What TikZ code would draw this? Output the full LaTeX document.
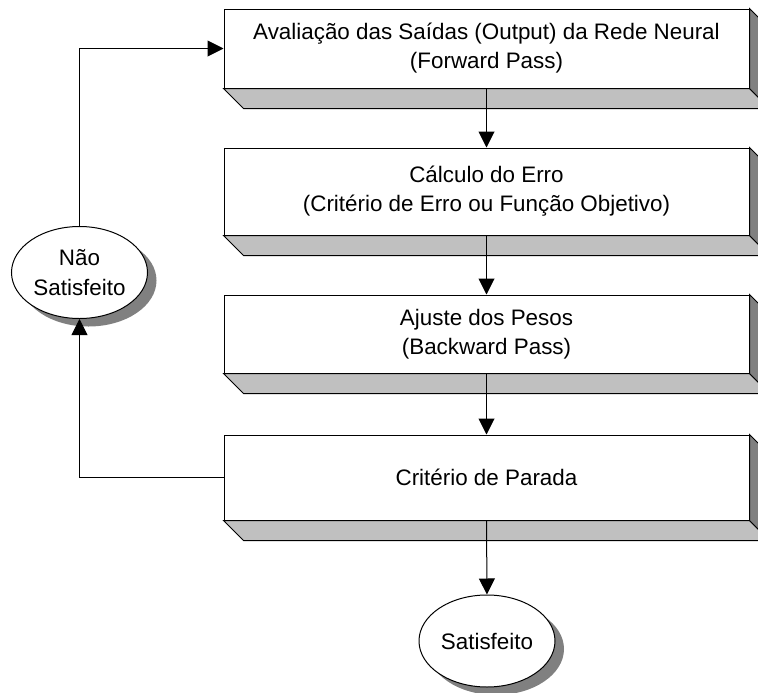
\documentclass[tikz,border=0pt]{standalone}
\usepackage{fontspec}
\setmainfont{Liberation Sans}
\usetikzlibrary{arrows.meta,calc,shapes.geometric}

\definecolor{facegray}{HTML}{C0C0C0}
\definecolor{sidegray}{HTML}{808080}

\tikzset{every picture/.style={line width=0.75pt}}
\tikzset{
  stage/.style={draw, fill=white, minimum width=393.75pt, inner sep=0.75pt, align=center,
    font=\fontsize{16.8}{21.8}\selectfont},
  outcome/.style={ellipse, draw, fill=white, minimum width=102pt, minimum height=69pt,
    inner sep=0pt, align=center, font=\fontsize{16.8}{23}\selectfont},
  flow/.style={-{Triangle[width=12pt,length=12pt]}},
}

\begin{document}
\begin{tikzpicture}[x=0.75pt,y=0.75pt,yscale=-1,xscale=1]
\useasboundingbox (0,0) rectangle (758,693);
\clip (0,0) rectangle (758,693);

%Shadows of the ellipses
\fill[sidegray] (88.5,280.5) ellipse [x radius=68, y radius=46];
\fill[sidegray] (496,649) ellipse [x radius=68, y radius=46];

% Text Node
\node[stage, minimum height=59.25pt] (b1) at (486.5,48.5)
  {Avaliação das Saídas (Output) da Rede Neural\\(Forward Pass)};
% Text Node
\node[stage, minimum height=65.25pt] (b2) at (486.5,191.5)
  {Cálculo do Erro\\(Critério de Erro ou Função Objetivo)};
% Text Node
\node[stage, minimum height=58.5pt] (b3) at (486.5,334)
  {Ajuste dos Pesos\\(Backward Pass)};
% Text Node
\node[stage, minimum height=63.75pt] (b4) at (486.5,477.5)
  {Critério de Parada};

%Shape: Ellipse
\node[outcome] (nao) at (79.5,272.5) {Não\\Satisfeito};
%Shape: Ellipse
\node[outcome] (sat) at (487,641) {Satisfeito};

%Box depth: bottom and right faces
\draw[fill=facegray] (b1.south west) -- ++(20,20) -- ($(b1.south east)+(20,20)$) -- (b1.south east) -- cycle;
\draw[fill=sidegray] (b1.north east) -- ++(20,20) -- ($(b1.south east)+(20,20)$) -- (b1.south east) -- cycle;
\draw[fill=facegray] (b2.south west) -- ++(20,20) -- ($(b2.south east)+(20,20)$) -- (b2.south east) -- cycle;
\draw[fill=sidegray] (b2.north east) -- ++(20,20) -- ($(b2.south east)+(20,20)$) -- (b2.south east) -- cycle;
\draw[fill=facegray] (b3.south west) -- ++(20,20) -- ($(b3.south east)+(20,20)$) -- (b3.south east) -- cycle;
\draw[fill=sidegray] (b3.north east) -- ++(20,20) -- ($(b3.south east)+(20,20)$) -- (b3.south east) -- cycle;
\draw[fill=facegray] (b4.south west) -- ++(20,20) -- ($(b4.south east)+(20,20)$) -- (b4.south east) -- cycle;
\draw[fill=sidegray] (b4.north east) -- ++(20,20) -- ($(b4.south east)+(20,20)$) -- (b4.south east) -- cycle;

%Straight Lines
\draw[flow] (b1.south) -- (b2.north);
\draw[flow] (b2.south) -- (b3.north);
\draw[flow] (b3.south) -- (b4.north);
\draw[flow] (b4.south) -- (sat.north);
%Feedback loop
\draw[flow] (b4.west) -| (nao.south);
\draw[flow] (nao.north) |- (b1.west);

\end{tikzpicture}
\end{document}
